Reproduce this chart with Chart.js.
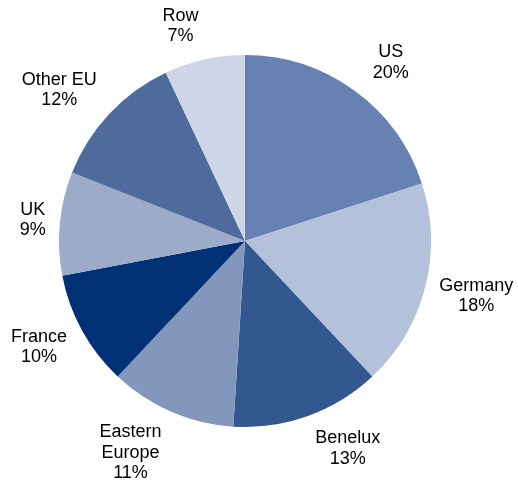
<!DOCTYPE html>
<html>
<head>
<meta charset="utf-8">
<script src="https://cdn.jsdelivr.net/npm/chart.js@4/dist/chart.umd.min.js"></script>
<style>
    html, body { margin: 0; padding: 0; background: #fff; }
    #wrap { width: 518px; height: 481px; }
</style>
</head>
<body>
<div id="wrap"><canvas id="pieChart" width="518" height="481"></canvas></div>
<script>
// Sales split by region (%)
const regions = ['US', 'Germany', 'Benelux', 'Eastern Europe', 'France', 'UK', 'Other EU', 'Row'];
const shares = [20, 18, 13, 11, 10, 9, 12, 7];
const sliceColors = ['#6781B2', '#B3C1DA', '#33578F', '#8397BC', '#003175', '#9BABC9', '#4E6B9C', '#CDD6E6'];

// Labels sit outside each slice: name (wrapped on spaces for long ones) plus percent
const outsideLabels = {
    id: 'outsideLabels',
    afterDatasetsDraw(chart) {
        const ctx = chart.ctx;
        const meta = chart.getDatasetMeta(0);
        const font = '18px "Liberation Sans", Arial, sans-serif';
        const lh = 20.5;
        ctx.save();
        ctx.font = font;
        ctx.fillStyle = '#000';
        ctx.textAlign = 'center';
        ctx.textBaseline = 'middle';
        meta.data.forEach((arc, i) => {
            const name = regions[i];
            const lines = (name.length > 10 ? name.split(' ') : [name]);
            lines.push(shares[i] + '%');
            const w = Math.max(...lines.map(l => ctx.measureText(l).width));
            const h = lines.length * lh;
            const mid = (arc.startAngle + arc.endAngle) / 2;
            const dx = Math.cos(mid), dy = Math.sin(mid);
            const r = arc.outerRadius + 14;
            let cx = arc.x + dx * r + dx * w / 2;
            const cy = arc.y + dy * r + dy * h / 2;
            // push top/bottom labels a little sideways, less so near the vertical
            cx += Math.sign(dx) * 27 * dy * dy * Math.min(1, Math.abs(dx) * 3);
            lines.forEach((line, k) => {
                ctx.fillText(line, cx, cy + (k - (lines.length - 1) / 2) * lh);
            });
        });
        ctx.restore();
    }
};

const ctx = document.getElementById('pieChart').getContext('2d');
const pieChart = new Chart(ctx, {
    type: 'pie',
    data: {
        labels: regions,
        datasets: [{
            data: shares,
            backgroundColor: sliceColors,
            borderWidth: 0
        }]
    },
    options: {
        responsive: false,
        animation: false,
        layout: {
            padding: { left: 59, right: 87, top: 55, bottom: 54 }
        },
        plugins: {
            legend: { display: false },
            tooltip: { enabled: false }
        }
    },
    plugins: [outsideLabels]
});
</script>
</body>
</html>
